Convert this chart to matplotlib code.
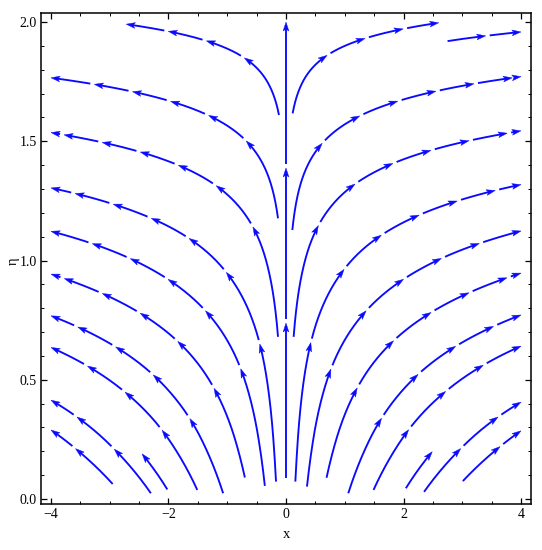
import numpy as np
import matplotlib
matplotlib.use("Agg")
import matplotlib.pyplot as plt
from matplotlib.patches import Polygon

# Growth-rate profile of the streamlines, d(ln|x|)/d(eta)
eta_nodes = [0.0, 0.25, 0.5, 0.75, 1.0, 1.25, 1.5, 1.75, 2.0]
rate_nodes = [1.2, 1.4, 1.9, 2.6, 3.3, 4.4, 5.9, 7.4, 10.5]

# Streamlines: upstream start (x, eta) and the |x| where they stop (4 = side edge)
line_x0 = [-0.17, -0.36, -0.70, -1.07, -1.51, -2.02, -2.30, -2.95, -0.136, -0.136, -0.12,
           0.159, 0.357, 0.69, 1.06, 1.49, 2.04, 2.35, 3.01, 0.13, 0.108, 0.113, 2.75]
line_eta0 = [0.073, 0.055, 0.09, 0.024, 0.038, 0.04, 0.024, 0.063, 0.68, 1.177, 1.61,
             0.073, 0.052, 0.089, 0.024, 0.038, 0.045, 0.03, 0.075, 0.68, 1.128, 1.617, 1.92]
line_xend = [4, 4, 4, 4, 4, 2.45, 4, 4, 4, 4, 2.72,
             4, 4, 4, 4, 4, 2.49, 4, 4, 4, 4, 2.6, 4]

# Central vertical streamline (x = 0)
center_eta = [0.088, 2.0]

x_ticks = [-4, -2, 0, 2, 4]
x_minor = np.arange(-4, 4.01, 0.5)
eta_ticks = [0.0, 0.5, 1.0, 1.5, 2.0]
eta_minor = np.arange(0, 2.01, 0.1)

BLUE = "#0a0aff"
SEG = 0.65        # data length of one arrow segment
GAP = 4.0         # px gap after arrowheads
HEAD_L = 9.0
HEAD_W = 5.8
LW = 1.35

fig = plt.figure(figsize=(5.42, 5.5), dpi=100)
ax = fig.add_axes([41 / 542, 46 / 550, 490 / 542, 491.5 / 550])
ax.set_xlim(-4.17, 4.17)
ax.set_ylim(-0.021, 2.04)

eg = np.linspace(0, 2.0, 4001)
rate = np.interp(eg, eta_nodes, rate_nodes)
Lg = np.concatenate([[0], np.cumsum(0.5 * (rate[1:] + rate[:-1]) * np.diff(eg))])


def streamline(x0, e0, xend):
    e = np.linspace(e0, 2.0, 3000)
    L = np.interp(e, eg, Lg) - np.interp(e0, eg, Lg)
    x = x0 * np.exp(L)
    a = np.abs(x)
    if a[-1] > xend:
        k = int(np.argmax(a > xend))
        t = (xend - a[k - 1]) / (a[k] - a[k - 1])
        ec = e[k - 1] + t * (e[k] - e[k - 1])
        e = np.append(e[:k], ec)
        x = np.append(x[:k], np.sign(x0) * xend)
    return x, e


fig.canvas.draw()
T = ax.transData
Ti = T.inverted()


def draw_stream(x, e):
    d = np.hypot(np.diff(x), np.diff(e))
    s = np.concatenate([[0], np.cumsum(d)])
    total = s[-1]
    marks = [m for m in np.arange(SEG, total, SEG) if m < total - 0.12]
    marks.append(total)
    P = T.transform(np.column_stack([x, e]))
    ps = np.concatenate([[0], np.cumsum(np.hypot(*np.diff(P, axis=0).T))])
    px = lambda q: np.column_stack([np.interp(q, ps, P[:, 0]), np.interp(q, ps, P[:, 1])])
    prev = None
    for m in marks:
        pm = np.interp(m, s, ps)
        a0 = 0.0 if prev is None else prev + GAP
        a1 = pm - HEAD_L * 0.6
        if a1 > a0:
            inner = ps[(ps > a0) & (ps < a1)]
            q = np.concatenate([[a0], inner, [a1]])
            D = Ti.transform(px(q))
            ax.plot(D[:, 0], D[:, 1], color=BLUE, lw=LW, solid_capstyle="butt", clip_on=False)
        tip = px([pm])[0]
        back = px([max(pm - 3.0, 0)])[0]
        dv = tip - back
        dv = dv / np.hypot(*dv)
        nv = np.array([-dv[1], dv[0]])
        pts = np.array([tip,
                        tip - dv * HEAD_L + nv * HEAD_W / 2,
                        tip - dv * HEAD_L * 0.78,
                        tip - dv * HEAD_L - nv * HEAD_W / 2])
        ax.add_patch(Polygon(Ti.transform(pts), closed=True, facecolor=BLUE,
                             edgecolor=BLUE, lw=0.3, clip_on=False))
        prev = pm


for x0, e0, xe in zip(line_x0, line_eta0, line_xend):
    xs, es = streamline(x0, e0, xe)
    draw_stream(xs, es)

ce = np.linspace(center_eta[0], center_eta[1], 200)
draw_stream(np.zeros_like(ce), ce)

serif = "Liberation Serif"
ax.set_xticks(x_ticks)
ax.set_xticks(x_minor, minor=True)
ax.set_yticks(eta_ticks)
ax.set_yticks(eta_minor, minor=True)
ax.set_xticklabels(["\u22124", "\u22122", "0", "2", "4"], family=serif, fontsize=10)
ax.set_yticklabels(["0.0", "0.5", "1.0", "1.5", "2.0"], family=serif, fontsize=10)
ax.tick_params(which="both", direction="in", top=True, right=True, color="black")
ax.tick_params(which="major", length=4, width=0.9, pad=3)
ax.tick_params(which="minor", length=2, width=0.7)
for sp in ax.spines.values():
    sp.set_linewidth(1.1)

fig.text(287 / 542, 1 - 535 / 550, "x", family=serif, fontsize=10.5, ha="center", va="center")
fig.text(13 / 542, 1 - 261 / 550, "\u03b7", family=serif, fontsize=10.5, ha="center",
         va="center", rotation=90)

fig.savefig("out.png", dpi=100)
